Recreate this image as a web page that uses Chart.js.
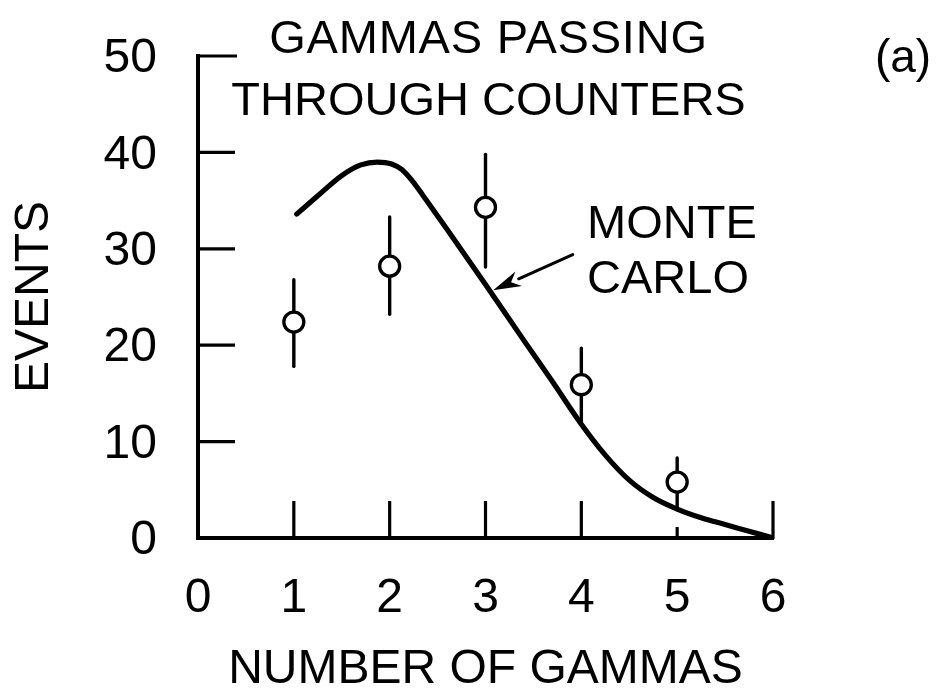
<!DOCTYPE html>
<html>
<head>
<meta charset="utf-8">
<script src="https://cdn.jsdelivr.net/npm/chart.js@4/dist/chart.umd.min.js"></script>
<style>
  html, body { margin: 0; padding: 0; background: #ffffff; }
  #wrap { width: 938px; height: 699px; }
</style>
</head>
<body>
<div id="wrap"><canvas id="chart" width="938" height="699"></canvas></div>
<script>
// Measured events per number of gammas, with their error bar ends
const gammaCounts = [1, 2, 3, 4, 5];
const eventCounts = [22.4, 28.2, 34.3, 15.9, 5.8];
const errorLow    = [17.8, 23.2, 28.1, 12.0, 3.1];
const errorHigh   = [26.8, 33.3, 39.8, 19.7, 8.3];

// Monte Carlo expectation curve
const monteCarloX = [1.03, 1.25, 1.5, 1.7, 1.87, 2.02, 2.13, 2.24, 2.35, 2.6, 3.0, 3.4, 3.7, 4.0, 4.25, 4.5, 4.75, 5.0, 5.25, 5.5, 5.75, 6.0];
const monteCarloY = [33.6, 35.5, 37.6, 38.7, 39.0, 38.8, 38.2, 37.0, 35.5, 32.0, 26.3, 20.5, 16.2, 11.8, 8.6, 6.0, 4.2, 3.0, 2.1, 1.4, 0.7, 0.0];

// Axis ticks
const xTickValues = [0, 1, 2, 3, 4, 5, 6];
const yTickValues = [0, 10, 20, 30, 40, 50];

// Text
const titleLines = ['GAMMAS PASSING', 'THROUGH COUNTERS'];
const panelLabel = '(a)';
const curveLabel = ['MONTE', 'CARLO'];
const xAxisTitle = 'NUMBER OF GAMMAS';
const yAxisTitle = 'EVENTS';

const INK = '#000000';
const FONT_FAMILY = '"Liberation Sans", Arial, sans-serif';
const bigFont = { family: FONT_FAMILY, size: 48, weight: 'normal' };

// Inward tick marks, error bars and the hand-lettered annotations
const decorations = {
  id: 'decorations',
  beforeDatasetDraw(chart, args) {
    if (args.index !== 1) return;
    const { ctx, scales: { x, y } } = chart;
    ctx.save();
    ctx.strokeStyle = INK;
    ctx.lineWidth = 3.4;
    ctx.lineCap = 'round';
    gammaCounts.forEach((g, i) => {
      const px = x.getPixelForValue(g);
      ctx.beginPath();
      ctx.moveTo(px, y.getPixelForValue(errorLow[i]));
      ctx.lineTo(px, y.getPixelForValue(errorHigh[i]));
      ctx.stroke();
    });
    ctx.restore();
  },
  afterDraw(chart) {
    const { ctx, chartArea, scales: { x, y } } = chart;
    ctx.save();
    ctx.strokeStyle = INK;
    ctx.fillStyle = INK;

    // tick marks pointing into the plot
    ctx.lineWidth = 3.2;
    ctx.lineCap = 'butt';
    yTickValues.filter(v => v > 0).forEach(v => {
      const py = y.getPixelForValue(v);
      const len = v === 50 ? 39 : 37;
      ctx.beginPath();
      ctx.moveTo(chartArea.left - 1, py);
      ctx.lineTo(chartArea.left + len, py);
      ctx.stroke();
    });
    xTickValues.filter(v => v > 0).forEach(v => {
      const px = x.getPixelForValue(v);
      const len = v === 5 ? 11 : 37;
      ctx.beginPath();
      ctx.moveTo(px, chartArea.bottom + 1);
      ctx.lineTo(px, chartArea.bottom - len);
      ctx.stroke();
    });

    // title
    ctx.font = `normal 47px ${FONT_FAMILY}`;
    ctx.textAlign = 'center';
    ctx.textBaseline = 'alphabetic';
    const cx = (chartArea.left + chartArea.right) / 2 + 3;
    ctx.letterSpacing = '0.8px';
    ctx.fillText(titleLines[0], cx, 53);
    ctx.letterSpacing = '0px';
    ctx.fillText(titleLines[1], cx, 115);

    // panel label
    ctx.font = `normal 46px ${FONT_FAMILY}`;
    ctx.textBaseline = 'middle';
    ctx.fillText(panelLabel, 903, 59);

    // curve label
    ctx.font = `normal 47px ${FONT_FAMILY}`;
    ctx.textAlign = 'left';
    ctx.textBaseline = 'alphabetic';
    const lx = x.getPixelForValue(4.06);
    ctx.fillText(curveLabel[0], lx, y.getPixelForValue(31.1));
    ctx.fillText(curveLabel[1], lx, y.getPixelForValue(25.4));

    // arrow pointing at the curve
    const tx = x.getPixelForValue(3.91), ty = y.getPixelForValue(29.4);
    const hx = x.getPixelForValue(3.08), hy = y.getPixelForValue(25.7);
    const ang = Math.atan2(hy - ty, hx - tx);
    const headLen = 28, headHalf = 8;
    const bx = hx - headLen * Math.cos(ang), by = hy - headLen * Math.sin(ang);
    ctx.lineWidth = 3;
    ctx.lineCap = 'round';
    ctx.beginPath();
    ctx.moveTo(tx, ty);
    ctx.lineTo(bx, by);
    ctx.stroke();
    ctx.beginPath();
    ctx.moveTo(hx, hy);
    ctx.lineTo(bx + headHalf * Math.sin(ang), by - headHalf * Math.cos(ang));
    ctx.lineTo(bx + 0.3 * headLen * Math.cos(ang), by + 0.3 * headLen * Math.sin(ang));
    ctx.lineTo(bx - headHalf * Math.sin(ang), by + headHalf * Math.cos(ang));
    ctx.closePath();
    ctx.fill();
    ctx.restore();
  }
};

new Chart(document.getElementById('chart'), {
  type: 'scatter',
  data: {
    datasets: [
      {
        label: 'Monte Carlo',
        data: monteCarloX.map((v, i) => ({ x: v, y: monteCarloY[i] })),
        showLine: true,
        borderColor: INK,
        borderWidth: 5.2,
        borderCapStyle: 'round',
        borderJoinStyle: 'round',
        pointRadius: 0,
        cubicInterpolationMode: 'monotone',
        order: 2
      },
      {
        label: 'Events',
        data: gammaCounts.map((v, i) => ({ x: v, y: eventCounts[i] })),
        showLine: false,
        pointRadius: 10,
        pointBackgroundColor: '#ffffff',
        pointBorderColor: INK,
        pointBorderWidth: 3.3,
        order: 1
      }
    ]
  },
  options: {
    responsive: false,
    animation: false,
    devicePixelRatio: 1,
    layout: { padding: { left: 0, right: 165, top: 56, bottom: 0 } },
    plugins: {
      legend: { display: false },
      tooltip: { enabled: false },
      title: { display: false }
    },
    scales: {
      x: {
        type: 'linear',
        min: 0,
        max: 6,
        afterFit(scale) { scale.height = 161; },
        afterBuildTicks(scale) { scale.ticks = xTickValues.map(v => ({ value: v })); },
        grid: { display: false, drawTicks: false },
        border: { display: true, color: INK, width: 4 },
        ticks: { color: INK, font: bigFont, padding: 32, maxRotation: 0, autoSkip: false },
        title: { display: true, text: xAxisTitle, color: INK, font: bigFont, padding: { top: 0, bottom: 0 } }
      },
      y: {
        type: 'linear',
        min: 0,
        max: 50,
        afterFit(scale) {
          scale.width = 198;
          scale.paddingTop = 0;
          scale.paddingBottom = 0;
        },
        afterBuildTicks(scale) { scale.ticks = yTickValues.map(v => ({ value: v })); },
        grid: { display: false, drawTicks: false },
        border: { display: true, color: INK, width: 4 },
        ticks: { color: INK, font: bigFont, padding: 41, labelOffset: 3, autoSkip: false },
        title: { display: true, text: yAxisTitle, color: INK, font: bigFont, padding: { top: 6, bottom: 0 } }
      }
    }
  },
  plugins: [decorations]
});
</script>
</body>
</html>
